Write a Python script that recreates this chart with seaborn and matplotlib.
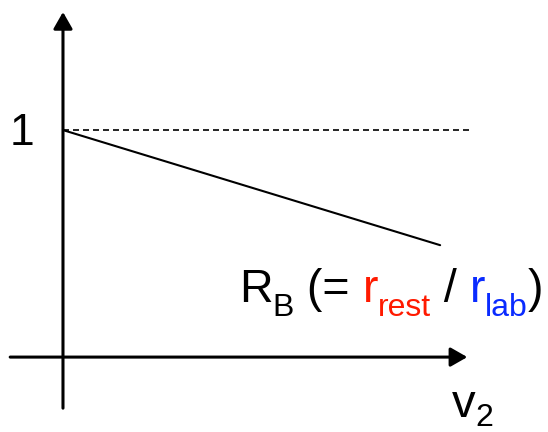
import matplotlib
matplotlib.use('Agg')
import matplotlib.pyplot as plt
import seaborn as sns

# schematic values: R_B falls linearly with v2, reference level at 1
v2 = [0.0, 1.0]
rb = [1.0, 0.493]
v2_ref = [0.0, 1.08]
rb_ref = [1.0, 1.0]

# label pieces: text, colour, is_subscript
label_parts = ['R', 'B', ' (= ', 'r', 'rest', ' / ', 'r', 'lab', ')']
label_colors = ['black', 'black', 'black', '#ff1a00', '#ff1a00', 'black', '#0a2bff', '#0a2bff', 'black']
label_sub = [False, True, False, False, True, False, False, True, False]

sns.set_theme(style='white')
plt.rcParams['font.family'] = ['Liberation Sans', 'DejaVu Sans']
plt.rcParams['text.color'] = 'black'

W, H = 548, 432
fig = plt.figure(figsize=(W / 100, H / 100), dpi=100)
ax = fig.add_axes([0, 0, 1, 1])
ax.set_xlim(-0.167, 1.286)
ax.set_ylim(-0.330, 1.573)
ax.axis('off')

# axes with arrow heads
arrow = dict(arrowstyle='-|>,head_length=0.7,head_width=0.4', lw=2.2,
             color='black', mutation_scale=14.5, shrinkA=0, shrinkB=0)
ax.annotate('', xy=(0, 1.52), xytext=(0, -0.225), arrowprops=arrow)
ax.annotate('', xy=(1.072, 0), xytext=(-0.14, 0), arrowprops=arrow)

# reference level and R_B line
sns.lineplot(x=v2_ref, y=rb_ref, ax=ax, color='black', lw=1.2)
ax.lines[-1].set_dashes((3.6, 2.4))
sns.lineplot(x=v2, y=rb, ax=ax, color='black', lw=1.5)

fs, fs_sub = 33.5, 23
fig.text(34 / W, (H - 145) / H, '1', ha='right', va='baseline', fontsize=32, color='black')

renderer = fig.canvas.get_renderer()


def put(x0, base, s, c, sub, size, sub_size, drop):
    y = base - drop if sub else base
    t = fig.text(x0 / W, y / H, s, color=c, fontsize=sub_size if sub else size,
                 ha='left', va='baseline')
    return x0 + t.get_window_extent(renderer).width


# v_2 axis label
x0 = put(452, H - 417, 'v', 'black', False, 34, 23, 9)
put(x0, H - 417, '2', 'black', True, 34, 23, 9)

# multi-coloured R_B label
x0 = 239
for s, c, sub in zip(label_parts, label_colors, label_sub):
    x0 = put(x0, H - 302, s, c, sub, fs, fs_sub, 14)

fig.savefig('out.png', dpi=100)
